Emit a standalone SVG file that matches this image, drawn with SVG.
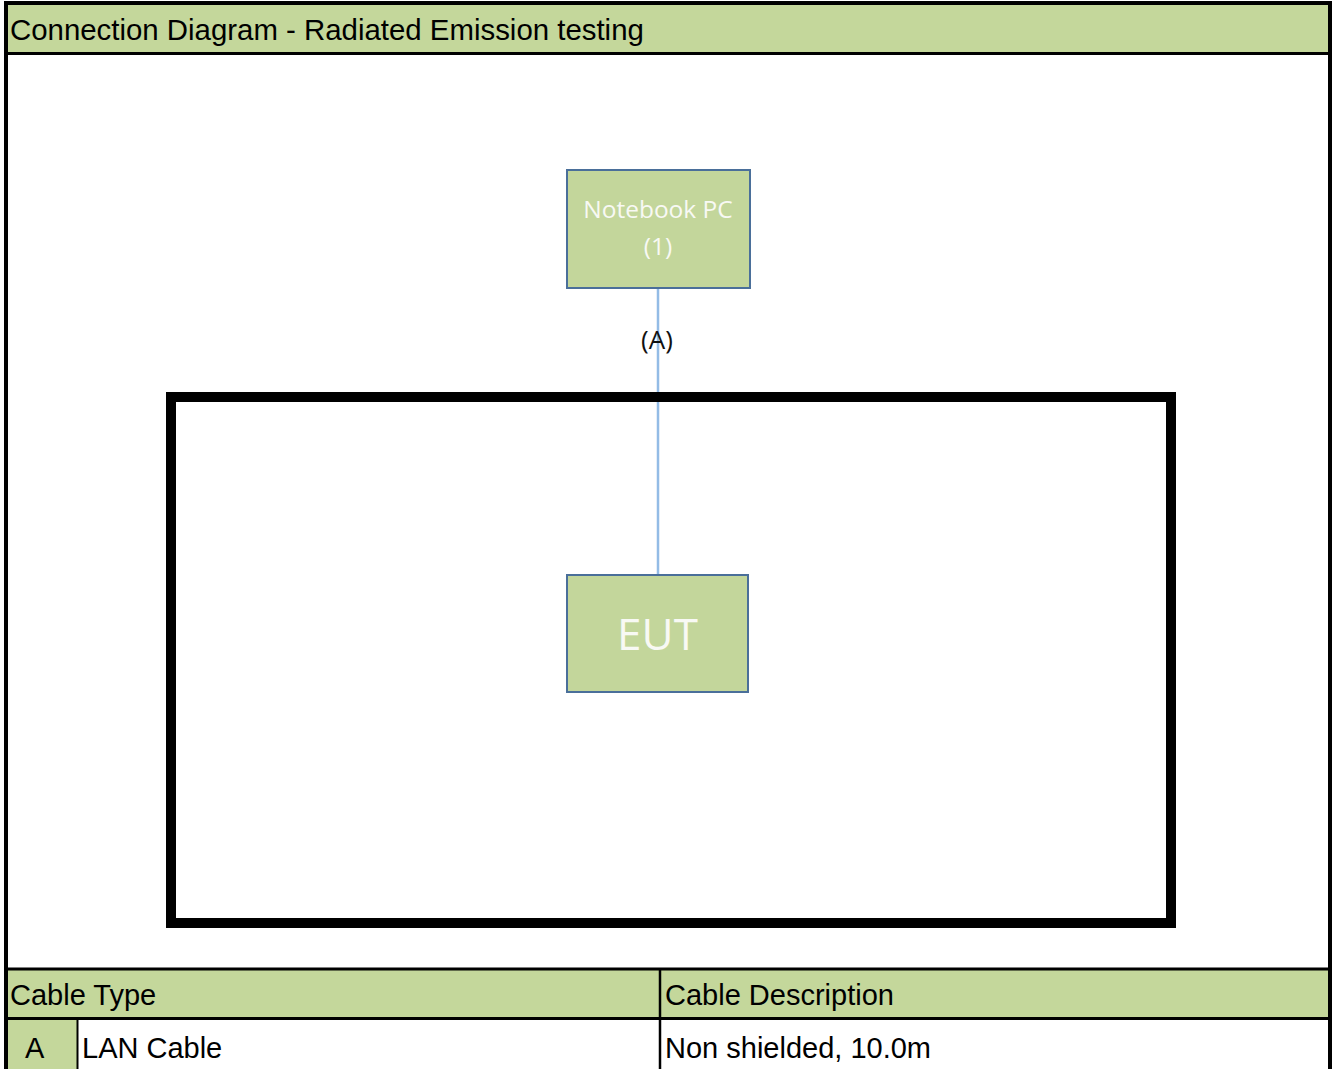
<svg xmlns="http://www.w3.org/2000/svg" width="1337" height="1069" viewBox="0 0 1337 1069">
<style>
.band{fill:#c4d79b}
.cell{font-family:"Liberation Sans",Arial,sans-serif;font-size:29px;fill:#000}
.node rect{fill:#c3d69b;stroke:#4a6f9a;stroke-width:2}
.nodetext{font-family:"Open Sans","Noto Sans",sans-serif;fill:#f8f9f4;text-anchor:middle}
.rule{stroke:#000;fill:none}
</style>
<rect x="0" y="0" width="1337" height="1069" fill="#fff"/>
<g id="frame">
<rect class="band" x="6" y="4" width="1324" height="49"/>
<rect class="band" x="6" y="969" width="1324" height="49"/>
<rect class="band" x="6" y="1018" width="71" height="51"/>
<line class="rule" x1="6" y1="3" x2="1330" y2="3" stroke-width="4"/>
<line class="rule" x1="6" y1="1" x2="6" y2="1069" stroke-width="4"/>
<line class="rule" x1="1330" y1="1" x2="1330" y2="1069" stroke-width="4"/>
<line class="rule" x1="6" y1="53.5" x2="1330" y2="53.5" stroke-width="3"/>
<line class="rule" x1="6" y1="969" x2="1330" y2="969" stroke-width="3"/>
<line class="rule" x1="6" y1="1018.5" x2="1330" y2="1018.5" stroke-width="3"/>
<line class="rule" x1="660" y1="969" x2="660" y2="1069" stroke-width="2.5"/>
<line class="rule" x1="77.5" y1="1018" x2="77.5" y2="1069" stroke-width="2"/>
<text class="cell" x="10" y="40" style="font-size:29.4px">Connection Diagram - Radiated Emission testing</text>
<text class="cell" x="10" y="1005">Cable Type</text>
<text class="cell" x="665" y="1005">Cable Description</text>
<text class="cell" x="25" y="1058">A</text>
<text class="cell" x="82" y="1058">LAN Cable</text>
<text class="cell" x="665" y="1058">Non shielded, 10.0m</text>
</g>
<g id="connectors">
<line x1="658" y1="288" x2="658" y2="574" stroke="#94bce6" stroke-width="2.5"/>
<text x="657" y="349" font-family="'Open Sans','Noto Sans',sans-serif" font-size="26" fill="#111" text-anchor="middle">(A)</text>
</g>
<g id="test-area">
<rect x="171" y="397" width="1000" height="526" fill="none" stroke="#000" stroke-width="10"/>
</g>
<g id="notebook-pc" class="node">
<rect x="567" y="170" width="183" height="118"/>
<text class="nodetext" x="658" y="218" font-size="24.5">Notebook PC</text>
<text class="nodetext" x="658" y="255" font-size="24.5">(1)</text>
</g>
<g id="eut" class="node">
<rect x="567" y="575" width="181" height="117"/>
<text class="nodetext" x="657.5" y="650" font-size="44">EUT</text>
</g>
</svg>
